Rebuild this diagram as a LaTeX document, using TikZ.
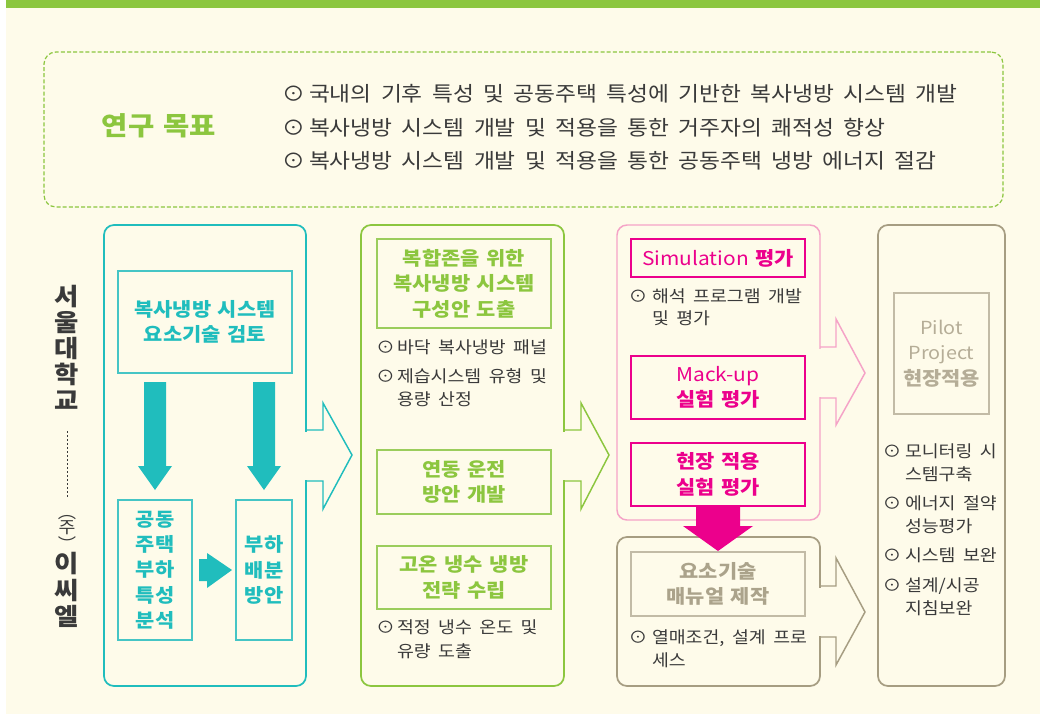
\documentclass[tikz,border=0pt]{standalone}
\usepackage{fontspec}
\setmainfont{Noto Sans CJK KR}[FakeStretch=1.1]
\usetikzlibrary{calc}
\definecolor{cCream}{HTML}{FEFBEA}
\definecolor{cGreen}{HTML}{8CC63F}
\definecolor{cGreenL}{HTML}{9BCD5C}
\definecolor{cTeal}{HTML}{20BDBD}
\definecolor{cTealL}{HTML}{45C5C5}
\definecolor{cPink}{HTML}{F5A3C7}
\definecolor{cMag}{HTML}{EC008C}
\definecolor{cTan}{HTML}{A69D82}
\definecolor{cTanL}{HTML}{C2BBA6}
\definecolor{cTanT}{HTML}{ABA38B}
\definecolor{cTanP}{HTML}{B5AD97}
\definecolor{cTxt}{HTML}{3A3A3A}
\newcommand{\hfont}{\fontsize{14.25}{19}\selectfont\bfseries\spaceskip=0.35em\relax}
\newcommand{\bfnt}{\fontsize{12.5}{17}\selectfont\spaceskip=0.45em\relax}
\newcommand{\gfnt}{\fontsize{15.5}{19}\selectfont\spaceskip=0.45em\relax}
\newcommand{\tfnt}{\fontsize{19.5}{22}\selectfont\bfseries\spaceskip=0.35em\relax}
\newcommand{\pfnt}{\fontsize{13.5}{19}\selectfont\mdseries}
\tikzset{
  every node/.style={inner sep=0pt, outer sep=0pt},
  sz/.style 2 args={minimum width=#1*0.75pt, minimum height=#2*0.75pt},
  colbox/.style={draw, line width=1.3pt, rounded corners=7.5pt},
  inbox/.style={draw, line width=0.8pt, align=center, font=\hfont},
  chev/.style={line width=1.1pt, line join=miter},
  gtext/.style={anchor=west, text height=0.76em, text depth=0pt, font=\gfnt, text=cTxt},
  btext/.style={anchor=west, text height=0.76em, text depth=0pt, font=\bfnt, text=cTxt},
  bsym/.style={anchor=center, text height=0.76em, text depth=0pt, font=\bfnt, text=cTxt},
}
\begin{document}
\begin{tikzpicture}[x=0.75pt, y=-0.75pt]
\fill[white] (0,0) rectangle (1040,714);
\fill[cCream] (6,8) rectangle (1040,714);
\fill[cGreen] (6,0) rectangle (1040,8);
\useasboundingbox (0,0) rectangle (1040,714);

% goal box
\node[draw=cGreen, line width=0.9pt, dash pattern=on 3pt off 1.6pt, rounded corners=9pt, sz={959}{155}] (goal) at (523.5,129.5) {};
\node[font=\tfnt, text=cGreen, text height=0.76em, text depth=0pt] (goaltitle) at (159,130) {연구 목표};
\node[bsym, font=\gfnt] (g1s) at (294,96) {⊙};
\node[gtext] (g1) at (309,96) {국내의 기후 특성 및 공동주택 특성에 기반한 복사냉방 시스템 개발};
\node[bsym, font=\gfnt] (g2s) at (294,130) {⊙};
\node[gtext] (g2) at (309,130) {복사냉방 시스템 개발 및 적용을 통한 거주자의 쾌적성 향상};
\node[bsym, font=\gfnt] (g3s) at (294,163) {⊙};
\node[gtext] (g3) at (309,163) {복사냉방 시스템 개발 및 적용을 통한 공동주택 냉방 에너지 절감};

% side labels
\node[font=\fontsize{18}{19.5}\selectfont\bfseries, text=cTxt, align=center] (snu) at (67,347) {서\\울\\대\\학\\교};
\draw[cTxt, line width=0.6pt, dash pattern=on 1.5pt off 1.5pt] (67,431) -- (67,497);
\node[font=\fontsize{12.5}{9.5}\selectfont, text=cTxt, align=center] (ju) at (67,533) {︵\\주\\︶};
\node[font=\fontsize{18}{20}\selectfont\bfseries, text=cTxt, align=center] (ecl) at (67,590) {이\\씨\\엘};

% ---------- column 1 (teal)
\node[colbox, draw=cTeal, sz={202}{461}] (c1) at (205,455.5) {};
\fill[cCream] (303,431.5) rectangle (309,479.5);
\draw[chev, cTeal] (306,430) -- (323,430) -- (323,403) -- (352,455) -- (323,509) -- (323,481) -- (306,481);
\node[inbox, draw=cTealL, text=cTeal, sz={174}{102}] (review) at (205,322) {복사냉방 시스템\\요소기술 검토};
\node[inbox, draw=cTealL, text=cTeal, sz={74}{140}] (load) at (155,570) {공동\\주택\\부하\\특성\\분석};
\node[inbox, draw=cTealL, text=cTeal, sz={56}{140}] (dist) at (264,570) {부하\\배분\\방안};
\fill[cTeal] (144,382) -- (166,382) -- (166,466) -- (172,466) -- (155,490) -- (138,466) -- (144,466) -- cycle;
\fill[cTeal] (253,382) -- (275,382) -- (275,466) -- (281,466) -- (264,490) -- (247,466) -- (253,466) -- cycle;
\fill[cTeal] (199,559) -- (207,559) -- (207,553) -- (232,570) -- (207,588) -- (207,581) -- (199,581) -- cycle;

% ---------- column 2 (green)
\node[colbox, draw=cGreen, sz={203}{461}] (c2) at (462.5,455.5) {};
\fill[cCream] (561,431.5) rectangle (567,479.5);
\draw[chev, cGreen] (564,430) -- (581,430) -- (581,403) -- (609,455) -- (581,509) -- (581,481) -- (564,481);
\node[inbox, draw=cGreenL, text=cGreen, sz={174}{89}] (zone) at (464,283.5) {복합존을 위한\\복사냉방 시스템\\구성안 도출};
\node[inbox, draw=cGreenL, text=cGreen, sz={174}{64}] (oper) at (464,482) {연동 운전\\방안 개발};
\node[inbox, draw=cGreenL, text=cGreen, sz={174}{63}] (strat) at (464,577.5) {고온 냉수 냉방\\전략 수립};
\node[bsym] (b21s) at (385.5,348) {⊙};
\node[btext] (b21) at (397,348) {바닥 복사냉방 패널};
\node[bsym] (b22s) at (385.5,377) {⊙};
\node[btext] (b22) at (397,377) {제습시스템 유형 및};
\node[btext] (b22b) at (397,400) {용량 산정};
\node[bsym] (b23s) at (385.5,628) {⊙};
\node[btext] (b23) at (397,628) {적정 냉수 온도 및};
\node[btext] (b23b) at (397,652) {유량 도출};

% ---------- column 3 (pink)
\node[colbox, draw=cPink, line width=1.1pt, sz={203}{295}] (c3) at (718.5,372.5) {};
\fill[cCream] (817,348.5) rectangle (823,396.5);
\draw[chev, cPink] (820,347) -- (836,347) -- (836,319) -- (865,373) -- (836,425) -- (836,398) -- (820,398);
\node[inbox, draw=cMag, text=cMag, sz={174}{38}] (sim) at (718,258) {\mdseries Simulation \bfseries 평가};
\node[inbox, draw=cMag, text=cMag, sz={174}{63}] (mack) at (718,387.5) {\mdseries Mack-up\\실험 평가};
\node[inbox, draw=cMag, text=cMag, sz={174}{63}] (field) at (718,474.5) {현장 적용\\실험 평가};
\node[bsym] (b31s) at (638,297) {⊙};
\node[btext] (b31) at (652,297) {해석 프로그램 개발};
\node[btext] (b31b) at (652,319) {및 평가};

% ---------- column 3b (tan)
\node[colbox, draw=cTan, sz={203}{149}] (c3b) at (718.5,611.5) {};
\fill[cCream] (817,587.5) rectangle (823,635.5);
\draw[chev, cTan] (820,586) -- (836,586) -- (836,558) -- (865,612) -- (836,665) -- (836,637) -- (820,637);
\node[inbox, draw=cTanL, text=cTanT, sz={174}{64}] (manual) at (718,584) {요소기술\\매뉴얼 제작};
\node[bsym] (b32s) at (638,638) {⊙};
\node[btext] (b32) at (652,638) {열매조건, 설계 프로};
\node[btext] (b32b) at (652,661) {세스};

% magenta arrow
\fill[cMag] (696,506) -- (740,506) -- (740,526) -- (753,526) -- (718,551) -- (683,526) -- (696,526) -- cycle;

% ---------- column 4 (tan)
\node[colbox, draw=cTan, sz={127}{461}] (c4) at (941.5,455.5) {};
\node[inbox, draw=cTanL, text=cTanP, sz={95}{121}] (pilot) at (941.5,353.5) {\pfnt Pilot\\\pfnt Project\\현장적용};
\node[bsym] (b41s) at (892,452) {⊙};
\node[btext] (b41) at (905,452) {모니터링 시};
\node[btext] (b41b) at (905,475) {스템구축};
\node[bsym] (b42s) at (892,504) {⊙};
\node[btext] (b42) at (905,504) {에너지 절약};
\node[btext] (b42b) at (905,527) {성능평가};
\node[bsym] (b43s) at (892,556) {⊙};
\node[btext] (b43) at (905,556) {시스템 보완};
\node[bsym] (b44s) at (892,586) {⊙};
\node[btext] (b44) at (905,586) {설계/시공};
\node[btext] (b44b) at (905,609) {지침보완};
\end{tikzpicture}
\end{document}
